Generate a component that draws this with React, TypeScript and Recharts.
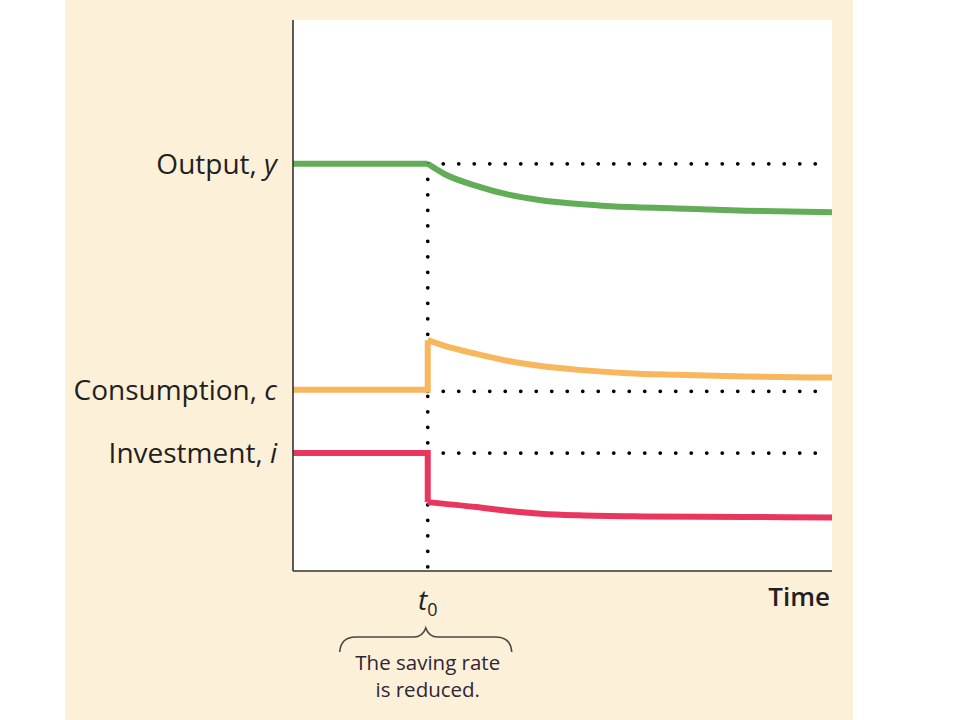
import React from "react"
import { LineChart, Line, XAxis, YAxis, CartesianGrid } from "recharts"

// time axis runs 0..100, the saving rate is cut at t0
const T0 = 25
const GUIDE_END = 98

const OUTPUT_LEVEL = 73.9
const CONS_LEVEL = 32.9
const INV_LEVEL = 21.4

const outputT = [0, 25, 28, 34, 40, 46, 53, 59, 71, 84, 100]
const outputV = [73.9, 73.9, 72.1, 69.9, 68.3, 67.3, 66.6, 66.2, 65.8, 65.4, 65.1]

const consT = [0, 25, 25, 28, 34, 40, 46, 53, 62, 71, 84, 100]
const consV = [32.9, 32.9, 41.9, 40.9, 39.4, 38.1, 37.2, 36.5, 35.9, 35.6, 35.3, 35.1]

const invT = [0, 25, 25, 34, 40, 46, 53, 65, 84, 100]
const invV = [21.4, 21.4, 12.5, 11.6, 10.9, 10.4, 10.1, 9.9, 9.8, 9.7]

const yLabels = [
  { value: OUTPUT_LEVEL, text: "Output, ", sym: "y" },
  { value: CONS_LEVEL, text: "Consumption, ", sym: "c" },
  { value: INV_LEVEL, text: "Investment, ", sym: "i" },
]

const zip = (ts: number[], vs: number[]) => ts.map((t, i) => ({ x: t, y: vs[i] }))

// flat part up to t0 (with the jump), smooth adjustment after it
const before = (ts: number[], vs: number[]) => zip(ts, vs).filter((p) => p.x <= T0)
const after = (ts: number[], vs: number[]) => {
  const pts = zip(ts, vs)
  const last = pts.map((p) => p.x).lastIndexOf(T0)
  return pts.slice(last)
}

const hGuide = (level: number) => [
  { x: T0, y: level },
  { x: GUIDE_END, y: level },
]
const vGuide = [
  { x: T0, y: OUTPUT_LEVEL },
  { x: T0, y: 0 },
]

const FONT = "'Open Sans', sans-serif"
const INK = "#231f20"

const YTick = (props: any) => {
  const { x, y, payload } = props
  const item = yLabels.find((l) => Math.abs(l.value - payload.value) < 0.01)
  if (!item) return null
  return (
    <text x={x - 14} y={y} dy="0.35em" textAnchor="end" fontSize={28} fontWeight={500} fontFamily={FONT} fill={INK}>
      <tspan>{item.text}</tspan>
      <tspan fontStyle="italic">{item.sym}</tspan>
    </text>
  )
}

const XTick = (props: any) => {
  const { x, y, payload } = props
  if (payload.value === 100) {
    return (
      <text x={x - 2} y={y + 33} textAnchor="end" fontSize={26} fontWeight={600} fontFamily={FONT} fill={INK}>
        Time
      </text>
    )
  }
  const cx = x - 2
  const b = y + 64
  return (
    <g>
      <text x={x} y={y + 37} textAnchor="middle" fontSize={28} fontFamily={FONT} fill={INK}>
        <tspan fontStyle="italic">t</tspan>
        <tspan fontSize={18} dy={6}>0</tspan>
      </text>
      <path
        d={`M${cx - 86},${b + 15} Q${cx - 85},${b} ${cx - 70},${b} L${cx - 12},${b} Q${cx - 3},${b} ${cx},${b - 9} Q${cx + 3},${b} ${cx + 12},${b} L${cx + 70},${b} Q${cx + 85},${b} ${cx + 86},${b + 15}`}
        fill="none"
        stroke="#4a4545"
        strokeWidth={1.6}
      />
      <text x={x} y={y + 97} textAnchor="middle" fontSize={20.5} fontWeight={500} fontFamily={FONT} fill="#2e2633">
        The saving rate
      </text>
      <text x={x} y={y + 124} textAnchor="middle" fontSize={20.5} fontWeight={500} fontFamily={FONT} fill="#2e2633">
        is reduced.
      </text>
    </g>
  )
}

const dotStyle = {
  stroke: "#000",
  strokeWidth: 3.8,
  strokeDasharray: "0 15.5",
  strokeLinecap: "round" as const,
}

const series = [
  { key: "output", ts: outputT, vs: outputV, color: "#63ad58" },
  { key: "cons", ts: consT, vs: consV, color: "#f8b75e" },
  { key: "inv", ts: invT, vs: invV, color: "#e8365c" },
]

export default function App() {
  return (
    <div style={{ position: "absolute", left: 0, top: 0, width: 960, height: 720, background: "#fff" }}>
      <div style={{ position: "absolute", left: 65, top: 0, width: 788, height: 720, background: "#fdf0d9" }} />
      <div style={{ position: "absolute", left: 0, top: 0 }}>
        <LineChart width={960} height={720} margin={{ top: 20, right: 128, bottom: 0, left: 0 }}>
          <CartesianGrid fill="#ffffff" horizontal={false} vertical={false} />
          <XAxis
            type="number"
            dataKey="x"
            domain={[0, 100]}
            ticks={[T0, 100]}
            height={149}
            tickSize={0}
            tickLine={false}
            tick={<XTick />}
            axisLine={{ stroke: "#333", strokeWidth: 1.6 }}
            allowDuplicatedCategory={false}
          />
          <YAxis
            type="number"
            dataKey="y"
            domain={[0, 100]}
            ticks={[INV_LEVEL, CONS_LEVEL, OUTPUT_LEVEL]}
            width={293}
            tickSize={0}
            tickLine={false}
            tick={<YTick />}
            axisLine={{ stroke: "#333", strokeWidth: 1.6 }}
            interval={0}
          />
          <Line data={vGuide} dataKey="y" type="linear" dot={false} isAnimationActive={false} {...dotStyle} />
          <Line data={hGuide(OUTPUT_LEVEL)} dataKey="y" type="linear" dot={false} isAnimationActive={false} {...dotStyle} />
          <Line data={hGuide(CONS_LEVEL - 0.3)} dataKey="y" type="linear" dot={false} isAnimationActive={false} {...dotStyle} />
          <Line data={hGuide(INV_LEVEL)} dataKey="y" type="linear" dot={false} isAnimationActive={false} {...dotStyle} />
          {series.map((s) => (
            <Line
              key={s.key + "-before"}
              data={before(s.ts, s.vs)}
              dataKey="y"
              type="linear"
              stroke={s.color}
              strokeWidth={6}
              strokeLinejoin="miter"
              dot={false}
              isAnimationActive={false}
            />
          ))}
          {series.map((s) => (
            <Line
              key={s.key + "-after"}
              data={after(s.ts, s.vs)}
              dataKey="y"
              type="monotone"
              stroke={s.color}
              strokeWidth={6}
              dot={false}
              isAnimationActive={false}
            />
          ))}
        </LineChart>
      </div>
    </div>
  )
}
